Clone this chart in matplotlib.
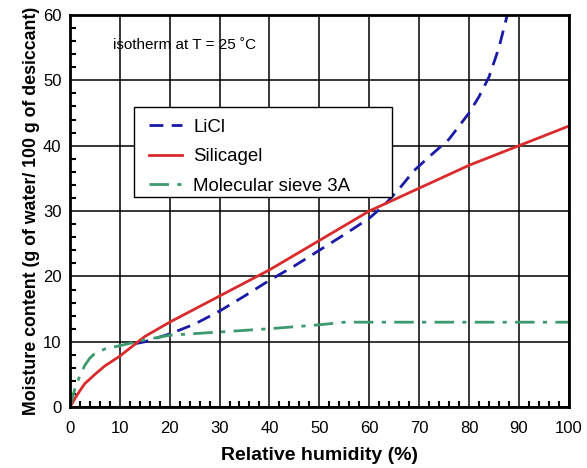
import matplotlib
matplotlib.use("Agg")
import matplotlib.pyplot as plt
from matplotlib.patches import Rectangle
from matplotlib.ticker import MultipleLocator

plt.rcParams['font.family'] = ['Liberation Sans', 'DejaVu Sans']

# values
rh_silica = [0, 1, 2, 3, 5, 7, 10, 12, 15, 20, 30, 40, 50, 60, 70, 80, 90, 100]
mc_silica = [0, 1.3, 2.5, 3.6, 5, 6.3, 7.8, 9, 10.8, 13, 17, 21, 25.5, 30, 33.5, 37, 40, 43]

rh_licl = [13, 15, 20, 25, 30, 35, 40, 45, 50, 55, 60, 63, 66, 69, 72, 76, 80, 82, 84, 86, 88]
mc_licl = [9.7, 10, 11.2, 12.7, 14.7, 17, 19.4, 21.6, 24, 26.4, 28.9, 30.9, 33.4, 36.2, 38.3, 41, 45, 47.5, 50.5, 55, 61]

rh_sieve = [0, 1, 2, 3, 4, 5, 7, 10, 15, 20, 30, 40, 50, 55, 60, 70, 80, 90, 100]
mc_sieve = [0, 2.8, 4.8, 6.4, 7.5, 8.2, 8.9, 9.4, 10.3, 11, 11.5, 12, 12.6, 13, 13, 13, 13, 13, 13]

fig = plt.figure(figsize=(5.87, 4.68), dpi=100)
ax = fig.add_axes([0.119, 0.130, 0.850, 0.838])

ax.plot(rh_licl, mc_licl, color='#1a1aa8', lw=2, ls=(0, (5, 3)), label='LiCl')
ax.plot(rh_silica, mc_silica, color='#d92b2b', lw=2, label='Silicagel')
ax.plot(rh_sieve, mc_sieve, color='#3d9a6e', lw=2, ls=(0, (7, 3, 1.5, 3)), label='Molecular sieve 3A')

ax.set_xlim(0, 100)
ax.set_ylim(0, 60)
ax.xaxis.set_major_locator(MultipleLocator(10))
ax.xaxis.set_minor_locator(MultipleLocator(2))
ax.yaxis.set_major_locator(MultipleLocator(10))
ax.yaxis.set_minor_locator(MultipleLocator(2))
ax.grid(True, which='major', color='black', lw=1.1)
ax.tick_params(which='both', direction='in', labelsize=12, color='black')
ax.tick_params(which='major', length=0)
ax.tick_params(axis='x', which='major', pad=10)
ax.tick_params(axis='y', which='major', pad=6)
ax.tick_params(which='minor', length=4, width=1.5)
for s in ax.spines.values():
    s.set_linewidth(2)

ax.set_xlabel('Relative humidity (%)', fontsize=14, fontweight='bold', labelpad=8)
ax.set_ylabel('Moisture content (g of water/ 100 g of desiccant)', fontsize=12.8,
              fontweight='bold', labelpad=2)

ax.text(0.086, 0.912, 'isotherm at T = 25 ˚C', transform=ax.transAxes, fontsize=11)

# legend box is wider than its contents in the original, so draw the frame by hand
box = Rectangle((0.128, 0.536), 0.517, 0.230, transform=ax.transAxes,
                facecolor='white', edgecolor='black', lw=1, zorder=4)
ax.add_patch(box)
leg = ax.legend(loc='upper left', bbox_to_anchor=(0.158, 0.735), fontsize=13.4,
                frameon=False, handlelength=1.8, handletextpad=0.6,
                borderpad=0, labelspacing=0.66, borderaxespad=0)
leg.set_zorder(5)

fig.savefig('out.png', dpi=100)
